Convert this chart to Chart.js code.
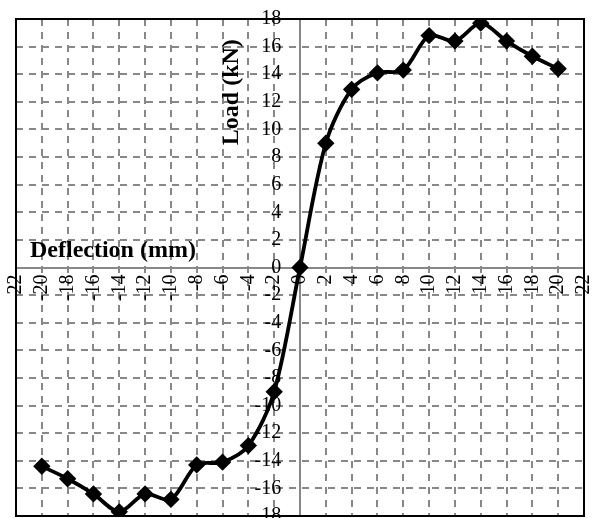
<!DOCTYPE html>
<html>
<head>
<meta charset="utf-8">
<script src="https://cdn.jsdelivr.net/npm/chart.js@4"></script>
<style>
  html, body { margin: 0; padding: 0; background: #fff; }
  #wrap { width: 599px; height: 518px; }
</style>
</head>
<body>
<div id="wrap"><canvas id="loadChart"></canvas></div>
<script>
// Load vs deflection data
const deflection = [-20, -18, -16, -14, -12, -10, -8, -6, -4, -2, 0, 2, 4, 6, 8, 10, 12, 14, 16, 18, 20];
const load = [-14.4, -15.3, -16.4, -17.7, -16.4, -16.8, -14.3, -14.1, -12.9, -9.0, 0, 9.0, 12.9, 14.1, 14.3, 16.8, 16.4, 17.7, 16.4, 15.3, 14.4];
const xTitle = 'Deflection (mm)';
const yTitle = 'Load (kN)';

const serif = '"Liberation Serif", "Times New Roman", serif';

// black frame round the plot area plus the two axis titles
const framePlugin = {
    id: 'frame',
    beforeDatasetsDraw(chart) {
        const { ctx, chartArea: a } = chart;
        ctx.save();
        ctx.strokeStyle = '#000';
        ctx.lineWidth = 2;
        ctx.strokeRect(a.left, a.top, a.right - a.left, a.bottom - a.top);
        ctx.restore();
    },
    afterDraw(chart) {
        const { ctx, chartArea: a } = chart;
        ctx.save();
        ctx.fillStyle = '#000';
        ctx.font = 'bold 24px ' + serif;
        ctx.textBaseline = 'middle';
        ctx.textAlign = 'left';
        ctx.fillText(xTitle, a.left + 14, chart.scales.y.getPixelForValue(1.2));
        ctx.translate(chart.scales.x.getPixelForValue(-5.3), chart.scales.y.getPixelForValue(12.7));
        ctx.rotate(-Math.PI / 2);
        ctx.textAlign = 'center';
        ctx.fillText(yTitle, 0, 0);
        ctx.restore();
    }
};

// centred axes should not push the plot area in
const noPadding = (scale) => {
    scale.paddingLeft = 0;
    scale.paddingRight = 0;
    scale.paddingTop = 0;
    scale.paddingBottom = 0;
};

// dashed grid, solid line through zero
const gridDash = (c) => (c.tick && c.tick.value === 0 ? [] : [7, 6]);

const ctx1 = document.getElementById('loadChart').getContext('2d');
new Chart(ctx1, {
    type: 'scatter',
    data: {
        datasets: [{
            label: 'Load',
            data: deflection.map((d, i) => ({ x: d, y: load[i] })),
            showLine: true,
            borderColor: '#000',
            borderWidth: 3.8,
            tension: 0.3,
            pointStyle: 'rectRot',
            pointRadius: 6,
            pointBackgroundColor: '#000',
            pointBorderColor: '#000'
        }]
    },
    options: {
        responsive: true,
        maintainAspectRatio: false,
        animation: false,
        layout: { autoPadding: false, padding: { left: 16, right: 15, top: 19, bottom: 2 } },
        plugins: {
            legend: { display: false },
            tooltip: { enabled: false }
        },
        scales: {
            x: {
                type: 'linear',
                position: { y: 0 },
                min: -22,
                max: 22,
                afterFit: noPadding,
                ticks: {
                    stepSize: 2,
                    autoSkip: false,
                    maxRotation: 90,
                    minRotation: 90,
                    padding: 7,
                    color: '#000',
                    font: { family: serif, size: 20 }
                },
                grid: { color: '#888', lineWidth: 2, drawTicks: false },
                border: { display: true, color: '#888', width: 2, dash: gridDash }
            },
            y: {
                type: 'linear',
                // labels sit a little left of the zero line
                position: { x: -1.45 },
                min: -18,
                max: 18,
                afterFit: noPadding,
                ticks: {
                    stepSize: 2,
                    autoSkip: false,
                    padding: 0,
                    color: '#000',
                    font: { family: serif, size: 20 }
                },
                grid: { color: '#888', lineWidth: 2, drawTicks: false },
                border: { display: false, color: '#888', width: 2, dash: gridDash }
            }
        }
    },
    plugins: [framePlugin]
});
</script>
</body>
</html>
